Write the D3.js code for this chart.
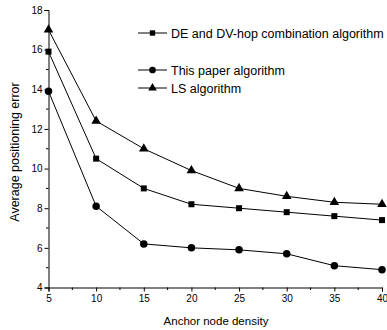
<!DOCTYPE html>
<html>
<head>
<meta charset="utf-8">
<script src="https://cdn.jsdelivr.net/npm/d3@7"></script>
<style>
  body { margin: 0; background: #fff; }
  svg { display: block; font-family: "Liberation Sans", Arial, sans-serif; }
</style>
</head>
<body>
<svg id="chart" width="387" height="330"></svg>
<script>
// anchor node density on x, error on y
const density = [5, 10, 15, 20, 25, 30, 35, 40];
const deDvHop = [15.9, 10.5, 9.0, 8.2, 8.0, 7.8, 7.6, 7.4];
const thisPaper = [13.9, 8.1, 6.2, 6.0, 5.9, 5.7, 5.1, 4.9];
const lsAlgo = [17.0, 12.4, 11.0, 9.9, 9.0, 8.6, 8.3, 8.2];
const yTicks = [4, 6, 8, 10, 12, 14, 16, 18];
const xTicks = [5, 10, 15, 20, 25, 30, 35, 40];

const series = [
  { name: 'DE and DV-hop combination algorithm', values: deDvHop, symbol: d3.symbolSquare, size: 36 },
  { name: 'This paper algorithm', values: thisPaper, symbol: d3.symbolCircle, size: 44 },
  { name: 'LS algorithm', values: lsAlgo, symbol: d3.symbolTriangle, size: 40 }
];

const svg = d3.select('#chart');
const x = d3.scaleLinear().domain([5, 40]).range([48.5, 382]);
const y = d3.scaleLinear().domain([4, 18]).range([287.5, 10]);

// axes
const xAxis = svg.append('g').attr('transform', 'translate(0,287.5)')
  .call(d3.axisBottom(x).tickValues(xTicks).tickSize(4).tickPadding(3).tickFormat(d3.format('d')));
const yAxis = svg.append('g').attr('transform', 'translate(48.5,0)')
  .call(d3.axisLeft(y).tickValues(yTicks).tickSize(4).tickPadding(2).tickFormat(d3.format('d')));
[xAxis, yAxis].forEach(a => {
  a.select('.domain').attr('stroke', '#000');
  a.selectAll('.tick line').attr('stroke', '#000');
  a.selectAll('.tick text').attr('fill', '#000').style('font-size', '10px');
});

// minor ticks
const xMinor = d3.range(7.5, 40, 5);
svg.append('g').selectAll('line').data(xMinor).join('line')
  .attr('x1', d => x(d)).attr('x2', d => x(d))
  .attr('y1', 287.5).attr('y2', 290)
  .attr('stroke', '#000');
const yMinor = d3.range(5, 18, 2);
svg.append('g').selectAll('line').data(yMinor).join('line')
  .attr('x1', 46).attr('x2', 48.5)
  .attr('y1', d => y(d)).attr('y2', d => y(d))
  .attr('stroke', '#000');

// axis titles
svg.append('text').attr('x', 216).attr('y', 325)
  .attr('text-anchor', 'middle').style('font-size', '11.5px').text('Anchor node density');
svg.append('text').attr('transform', 'translate(19,152) rotate(-90)')
  .attr('text-anchor', 'middle').style('font-size', '12.5px').text('Average positioning error');

// lines and markers
const line = d3.line().x((d, i) => x(density[i])).y(d => y(d));
series.forEach(s => {
  svg.append('path').datum(s.values)
    .attr('d', line).attr('fill', 'none').attr('stroke', '#000').attr('stroke-width', 1);
  svg.append('g').selectAll('path').data(s.values).join('path')
    .attr('d', d3.symbol(s.symbol, s.size))
    .attr('transform', (d, i) => `translate(${x(density[i])},${y(d)})`)
    .attr('fill', '#000');
});

// legend
const legendY = [33, 70, 88];
series.forEach((s, i) => {
  const g = svg.append('g').attr('transform', `translate(138,${legendY[i]})`);
  g.append('line').attr('x1', 0).attr('x2', 29).attr('stroke', '#000');
  g.append('path').attr('d', d3.symbol(s.symbol, s.size * 0.8)).attr('transform', 'translate(14.5,0)');
  g.append('text').attr('x', 33).attr('y', 4.5).style('font-size', '12.5px').text(s.name);
});
</script>
</body>
</html>
